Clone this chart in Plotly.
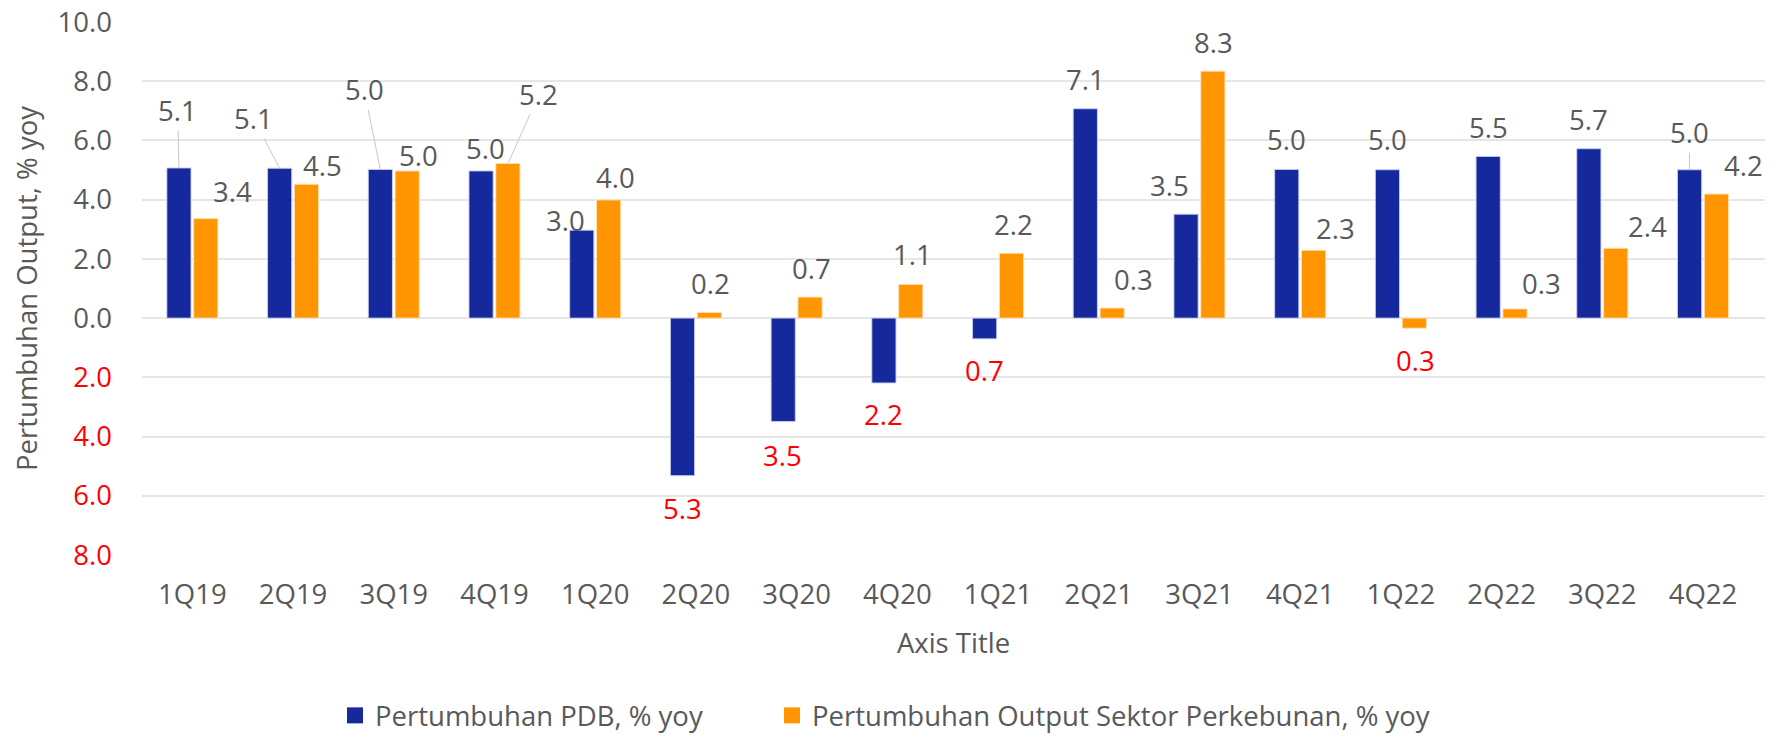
import plotly.graph_objects as go

# ---------------- data ----------------
quarters = ["1Q19", "2Q19", "3Q19", "4Q19", "1Q20", "2Q20", "3Q20", "4Q20",
            "1Q21", "2Q21", "3Q21", "4Q21", "1Q22", "2Q22", "3Q22", "4Q22"]
pdb_growth = [5.07, 5.06, 5.02, 4.97, 2.97, -5.32, -3.49, -2.19,
              -0.70, 7.07, 3.51, 5.02, 5.01, 5.46, 5.72, 5.01]
plantation_growth = [3.36, 4.52, 4.97, 5.22, 3.99, 0.19, 0.71, 1.14,
                     2.19, 0.34, 8.34, 2.29, -0.34, 0.31, 2.36, 4.19]
series_names = ["Pertumbuhan PDB, % yoy",
                "Pertumbuhan Output Sektor Perkebunan, % yoy"]
y_ticks = [10, 8, 6, 4, 2, 0, -2, -4, -6, -8]
y_title = "Pertumbuhan Output, % yoy"
x_title = "Axis Title"

# ---------------- style ----------------
BLUE = "#15289C"
ORANGE = "#FF9500"
TEXT = "#595959"
RED = "#FF0000"
GRID = "#E6E6E6"
FONT = "Open Sans"
FS = 27.5
BAR_SHIFT = 13.5  # px from category centre to each bar centre
W, H = 1773, 732  # page body has an 8px default margin

# label placement relative to bar end (px): (dx, dy, leader line)
pdb_label_pos = [(-1, -57, True), (-26, -50, True), (-16, -79.5, True), (4.6, -22, False),
                 (-16, -10, False), (0, 33, False), (-1, 34, False), (0, 32, False),
                 (0, 32, False), (0, -29, False), (-16, -29, False), (0, -30, False),
                 (0, -30, False), (0, -29, False), (0, -29, False), (0, -37, True)]
plant_label_pos = [(26.5, -27, False), (16, -19, False), (11, -15, False), (31, -69, True),
                   (6.5, -22, False), (1, -29, False), (1, -29, False), (2, -30, False),
                   (2, -29, False), (21, -29, False), (1, -29, False), (22, -22, False),
                   (1, 32, False), (26, -25, False), (32, -22, False), (27, -29, False)]

fig = go.Figure()
fig.add_trace(go.Bar(x=quarters, y=pdb_growth, name=series_names[0], marker_color=BLUE,
                     marker_line=dict(color="rgba(200,205,240,0.9)", width=1),
                     showlegend=False, hoverinfo="x+y"))
fig.add_trace(go.Bar(x=quarters, y=plantation_growth, name=series_names[1], marker_color=ORANGE,
                     marker_line=dict(color="rgba(255,225,180,0.9)", width=1),
                     showlegend=False, hoverinfo="x+y"))
# legend entries (square swatches), one legend box per series
for nm, col, lg in zip(series_names, [BLUE, ORANGE], ["legend", "legend2"]):
    fig.add_trace(go.Scatter(x=[None], y=[None], mode="markers", name=nm, legend=lg,
                             marker=dict(symbol="square", size=19, color=col)))


def add_labels(values, shift, positions):
    for q, v, (dx, dy, leader) in zip(quarters, values, positions):
        color = RED if v < 0 else TEXT
        txt = f"{abs(v):.1f}"
        font = dict(family=FONT, size=FS, color=color)
        if leader:
            fig.add_annotation(x=q, y=v, xshift=shift, text=txt, showarrow=True,
                               ax=dx, ay=dy, arrowhead=0, arrowwidth=1,
                               arrowcolor="#C8C8C8", standoff=0, font=font)
        else:
            fig.add_annotation(x=q, y=v, xshift=shift + dx, yshift=-dy, text=txt,
                               showarrow=False, xanchor="center", yanchor="middle",
                               font=font)


add_labels(pdb_growth, -BAR_SHIFT, pdb_label_pos)
add_labels(plantation_growth, BAR_SHIFT, plant_label_pos)

tick_text = [f"{abs(t):.1f}" if t >= 0 else f"<span style='color:{RED}'>{abs(t):.1f}</span>"
             for t in y_ticks]

legend_common = dict(orientation="h", xref="container", yref="container",
                     xanchor="left", y=-10 / H, yanchor="bottom",
                     font=dict(family=FONT, size=FS, color=TEXT),
                     bgcolor="rgba(0,0,0,0)")

fig.update_layout(
    width=W, height=H,
    margin=dict(l=134, r=16, t=14, b=185, autoexpand=False),
    paper_bgcolor="white", plot_bgcolor="white",
    font=dict(family=FONT, size=FS, color=TEXT),
    barmode="group", bargap=0.467, bargroupgap=0.1,
    xaxis=dict(type="category", showgrid=False, showline=False, zeroline=False,
               automargin=False, ticks="", ticklabelstandoff=20,
               ticklabeloverflow="allow",
               tickfont=dict(family=FONT, size=FS, color=TEXT),
               title=dict(text=x_title, standoff=23,
                          font=dict(family=FONT, size=FS, color=TEXT))),
    yaxis=dict(range=[-8, 10], tickvals=y_ticks, ticktext=tick_text,
               showgrid=True, gridcolor=GRID, gridwidth=1.5, zeroline=False,
               automargin=False, showline=False, ticks="", ticklabelstandoff=29,
               ticklabeloverflow="allow",
               tickfont=dict(family=FONT, size=FS, color=TEXT),
               title=dict(text=y_title, standoff=16,
                          font=dict(family=FONT, size=FS, color=TEXT))),
    legend=dict(x=327 / W, **legend_common),
    legend2=dict(x=764 / W, **legend_common),
    showlegend=True,
)

fig.write_html("out.html")
